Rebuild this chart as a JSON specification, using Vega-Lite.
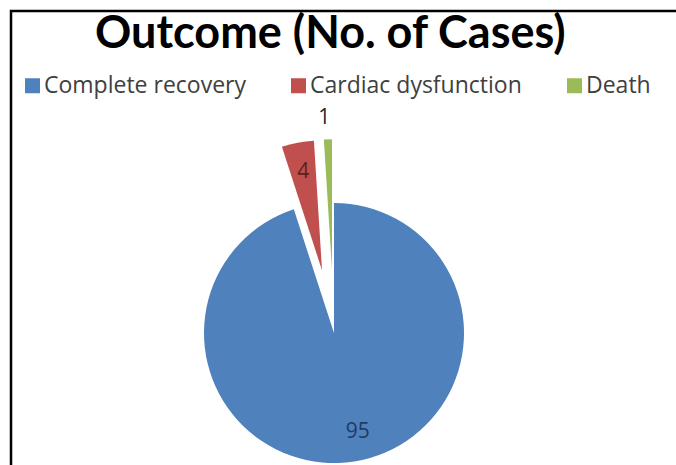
{
  "$schema": "https://vega.github.io/schema/vega-lite/v6.json",
  "width": 700,
  "height": 460,
  "autosize": {"type": "none"},
  "padding": {"left": 11, "top": 11, "right": -35, "bottom": -6},
  "background": "white",
  "view": {"stroke": "black", "strokeWidth": 2.5, "fill": "white"},
  "title": {
    "text": "Outcome (No. of Cases)",
    "font": "Lato",
    "fontSize": 45,
    "fontWeight": "bold",
    "color": "black",
    "anchor": "start",
    "frame": "group",
    "baseline": "alphabetic",
    "dx": 84,
    "offset": -82
  },
  "data": {
    "values": [
      {"Outcome": "Complete recovery", "Cases": 95},
      {"Outcome": "Cardiac dysfunction", "Cases": 4},
      {"Outcome": "Death", "Cases": 1}
    ]
  },
  "transform": [
    {"joinaggregate": [{"op": "sum", "field": "Cases", "as": "Total"}]},
    {"window": [{"op": "sum", "field": "Cases", "as": "Cum"}], "frame": [null, 0]},
    {"calculate": "(datum.Cum - datum.Cases) / datum.Total", "as": "Start"},
    {"calculate": "datum.Cum / datum.Total", "as": "End"},
    {"calculate": "(datum.Start + datum.End) / 2", "as": "Mid"},
    {"calculate": "datum.Outcome === 'Complete recovery' ? 0 : 0.49", "as": "Explode"},
    {"calculate": "datum.Explode * sin(2 * PI * datum.Mid)", "as": "CX"},
    {"calculate": "datum.Explode * cos(2 * PI * datum.Mid)", "as": "CY"}
  ],
  "encoding": {
    "x": {"field": "CX", "type": "quantitative", "axis": null,
          "scale": {"domain": [-2.4846, 2.9], "nice": false, "zero": false}},
    "y": {"field": "CY", "type": "quantitative", "axis": null,
          "scale": {"domain": [-1.0615, 2.4769], "nice": false, "zero": false}}
  },
  "layer": [
    {
      "mark": {"type": "arc", "outerRadius": 130},
      "encoding": {
        "theta": {"field": "Start", "type": "quantitative", "stack": null,
                  "scale": {"domain": [0, 1]}},
        "theta2": {"field": "End"},
        "color": {
          "field": "Outcome",
          "type": "nominal",
          "sort": null,
          "scale": {
            "domain": ["Complete recovery", "Cardiac dysfunction", "Death"],
            "range": ["#4F81BD", "#C0504D", "#9BBB59"]
          },
          "legend": {
            "title": null,
            "orient": "none",
            "legendX": 10,
            "legendY": 63,
            "direction": "horizontal",
            "symbolType": "square",
            "symbolSize": 225,
            "symbolStrokeWidth": 0,
            "symbolOpacity": 1,
            "labelFont": "Open Sans",
            "labelFontSize": 23,
            "labelColor": "#404040",
            "labelLimit": 400,
            "labelOffset": 0,
            "columnPadding": 41
          }
        }
      }
    },
    {
      "transform": [{"filter": "datum.Outcome === 'Complete recovery'"}],
      "mark": {"type": "text", "radius": 100, "dx": 8, "font": "Open Sans", "fontSize": 21,
               "align": "center", "baseline": "middle", "color": "#1F3B63"},
      "encoding": {
        "theta": {"field": "Mid", "type": "quantitative", "stack": null},
        "text": {"field": "Cases", "type": "quantitative"}
      }
    },
    {
      "transform": [{"filter": "datum.Outcome === 'Cardiac dysfunction'"}],
      "mark": {"type": "text", "radius": 100, "font": "Open Sans", "fontSize": 21,
               "align": "center", "baseline": "middle", "color": "#5C1F1E"},
      "encoding": {
        "theta": {"field": "Mid", "type": "quantitative", "stack": null},
        "text": {"field": "Cases", "type": "quantitative"}
      }
    },
    {
      "transform": [{"filter": "datum.Outcome === 'Death'"}],
      "mark": {"type": "text", "radius": 151, "dx": -3, "font": "Open Sans", "fontSize": 21,
               "align": "center", "baseline": "middle", "color": "#262626"},
      "encoding": {
        "theta": {"field": "Mid", "type": "quantitative", "stack": null},
        "text": {"field": "Cases", "type": "quantitative"}
      }
    }
  ]
}
